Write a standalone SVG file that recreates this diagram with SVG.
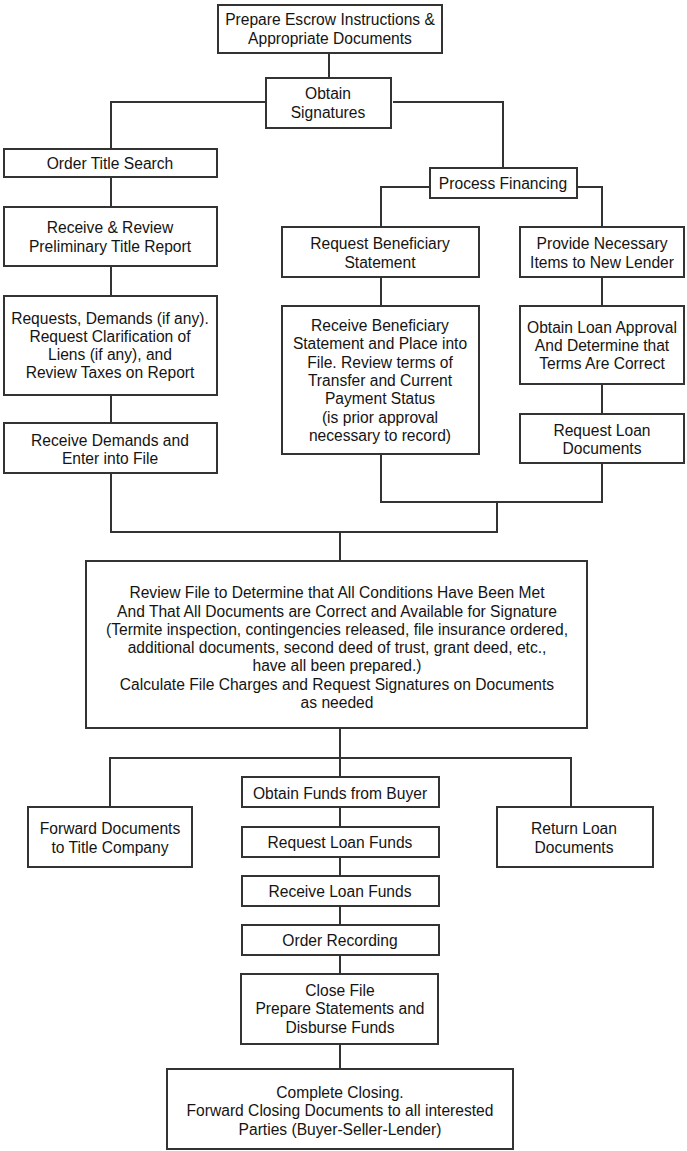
<svg xmlns="http://www.w3.org/2000/svg" width="687" height="1151" viewBox="0 0 687 1151">
<style>
.box{fill:#fff;stroke:#333;stroke-width:2}
.ln{fill:none;stroke:#333;stroke-width:2}
text{font-family:"Liberation Sans",Arial,sans-serif;font-size:15.6px;fill:#141414;text-anchor:middle;dominant-baseline:central}
</style>
<rect width="687" height="1151" fill="#fff"/>
<g id="connectors" class="ln">
<path d="M329 53V78"/>
<path d="M265 102H111V149"/>
<path d="M393 102H503V168"/>
<path d="M111 177V207"/>
<path d="M111 266V296"/>
<path d="M111 395V423"/>
<path d="M430 187H381V227"/>
<path d="M577 187H602V227"/>
<path d="M381 277V306"/>
<path d="M602 277V306"/>
<path d="M602 384V414"/>
<path d="M381 454V502H602V463"/>
<path d="M497 502V532H111V473"/>
<path d="M340 532V561"/>
<path d="M340 728V777"/>
<path d="M110 807V758H571V807"/>
<path d="M340 807V827"/>
<path d="M340 857V876"/>
<path d="M340 906V925"/>
<path d="M340 955V974"/>
<path d="M340 1044V1069"/>
</g>
<g id="n1"><rect class="box" x="218" y="5" width="224" height="48"/><text x="330" y="19">Prepare Escrow Instructions &amp;</text><text x="330" y="38">Appropriate Documents</text></g>
<g id="n2"><rect class="box" x="266" y="78" width="125" height="50"/><text x="328" y="93">Obtain</text><text x="328" y="112">Signatures</text></g>
<g id="n3"><rect class="box" x="4" y="149" width="213" height="28"/><text x="110" y="163">Order Title Search</text></g>
<g id="n4"><rect class="box" x="4" y="207" width="213" height="59"/><text x="110" y="227">Receive &amp; Review</text><text x="110" y="246">Preliminary Title Report</text></g>
<g id="n5"><rect class="box" x="4" y="296" width="213" height="99"/><text x="110" y="318">Requests, Demands (if any).</text><text x="110" y="336">Request Clarification of</text><text x="110" y="354">Liens (if any), and</text><text x="110" y="372">Review Taxes on Report</text></g>
<g id="n6"><rect class="box" x="4" y="423" width="213" height="50"/><text x="110" y="440">Receive Demands and</text><text x="110" y="458">Enter into File</text></g>
<g id="n7"><rect class="box" x="430" y="168" width="147" height="30"/><text x="503" y="183">Process Financing</text></g>
<g id="n8"><rect class="box" x="282" y="227" width="197" height="50"/><text x="380" y="243">Request Beneficiary</text><text x="380" y="262">Statement</text></g>
<g id="n9"><rect class="box" x="282" y="306" width="197" height="148"/><text x="380" y="325">Receive Beneficiary</text><text x="380" y="343">Statement and Place into</text><text x="380" y="362">File. Review terms of</text><text x="380" y="380">Transfer and Current</text><text x="380" y="398">Payment Status</text><text x="380" y="417">(is prior approval</text><text x="380" y="435">necessary to record)</text></g>
<g id="n10"><rect class="box" x="520" y="227" width="164" height="50"/><text x="602" y="243">Provide Necessary</text><text x="602" y="262">Items to New Lender</text></g>
<g id="n11"><rect class="box" x="520" y="306" width="164" height="78"/><text x="602" y="327">Obtain Loan Approval</text><text x="602" y="345">And Determine that</text><text x="602" y="363">Terms Are Correct</text></g>
<g id="n12"><rect class="box" x="520" y="414" width="164" height="49"/><text x="602" y="430">Request Loan</text><text x="602" y="448">Documents</text></g>
<g id="n13"><rect class="box" x="86" y="561" width="501" height="167"/><text x="337" y="592">Review File to Determine that All Conditions Have Been Met</text><text x="337" y="611">And That All Documents are Correct and Available for Signature</text><text x="337" y="629">(Termite inspection, contingencies released, file insurance ordered,</text><text x="337" y="647">additional documents, second deed of trust, grant deed, etc.,</text><text x="337" y="665">have all been prepared.)</text><text x="337" y="684">Calculate File Charges and Request Signatures on Documents</text><text x="337" y="702">as needed</text></g>
<g id="n14"><rect class="box" x="28" y="807" width="164" height="60"/><text x="110" y="828">Forward Documents</text><text x="110" y="847">to Title Company</text></g>
<g id="n15"><rect class="box" x="497" y="807" width="156" height="60"/><text x="574" y="828">Return Loan</text><text x="574" y="847">Documents</text></g>
<g id="n16"><rect class="box" x="242" y="777" width="197" height="30"/><text x="340" y="793">Obtain Funds from Buyer</text></g>
<g id="n17"><rect class="box" x="242" y="827" width="197" height="30"/><text x="340" y="842">Request Loan Funds</text></g>
<g id="n18"><rect class="box" x="242" y="876" width="197" height="30"/><text x="340" y="891">Receive Loan Funds</text></g>
<g id="n19"><rect class="box" x="242" y="925" width="197" height="30"/><text x="340" y="940">Order Recording</text></g>
<g id="n20"><rect class="box" x="241" y="974" width="197" height="70"/><text x="340" y="990">Close File</text><text x="340" y="1008">Prepare Statements and</text><text x="340" y="1027">Disburse Funds</text></g>
<g id="n21"><rect class="box" x="167" y="1069" width="346" height="80"/><text x="340" y="1092">Complete Closing.</text><text x="340" y="1110">Forward Closing Documents to all interested</text><text x="340" y="1129">Parties (Buyer-Seller-Lender)</text></g>
</svg>
